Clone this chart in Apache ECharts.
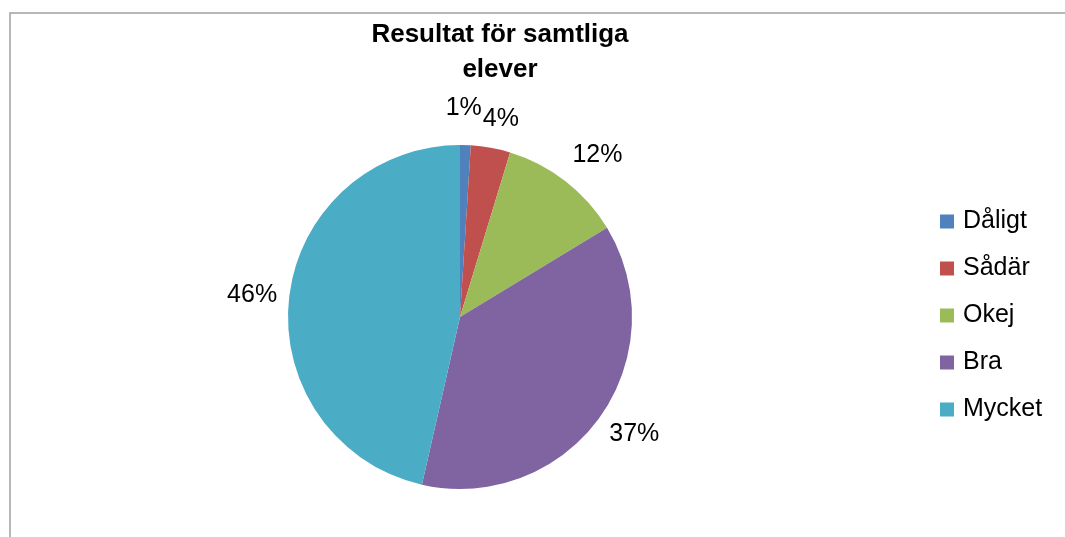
<!DOCTYPE html>
<html>
<head>
<meta charset="utf-8">
<script src="https://cdn.jsdelivr.net/npm/echarts@6/dist/echarts.min.js"></script>
<style>
  html, body { margin: 0; padding: 0; background: #fff; }
  #chart { width: 1065px; height: 537px; }
</style>
</head>
<body>
<div id="chart"></div>
<script>
const categories = ['Dåligt', 'Sådär', 'Okej', 'Bra', 'Mycket']
const values = [1.0, 3.7, 11.6, 37.2, 46.4]
const colors = ['#4F81BD', '#C0504D', '#9BBB59', '#8064A2', '#4BACC6']

const pieCenter = [460, 317]
const pieRadius = 172
const labelGap = 12
const labelFont = '25px "Liberation Sans", Arial, sans-serif'

const total = values.reduce((a, b) => a + b, 0)

// mät etikettbredd för grannar
const measureCtx = document.createElement('canvas').getContext('2d')
measureCtx.font = labelFont
function pctText(i) {
  return Math.round(values[i] / total * 100) + '%'
}

// Excel-liknande placering: utanför kanten längs mittvinkeln
function labelPos(i, w) {
  let before = 0
  for (let k = 0; k < i; k++) before += values[k]
  const mid = (before + values[i] / 2) / total * Math.PI * 2
  const sx = Math.sin(mid)
  const sy = -Math.cos(mid)
  const clamp = v => Math.max(-1, Math.min(1, v))
  const halfH = 10 + (sy < 0 ? 11 * sy * sy : 0)
  const r = pieRadius + labelGap
  return {
    x: pieCenter[0] + r * sx + clamp(1.6 * sx) * w / 2,
    y: pieCenter[1] + r * sy + clamp(1.6 * sy) * halfH,
    w: w
  }
}

function overlapX(a, b, h) {
  if (Math.abs(a.y - b.y) >= h) return 0
  const o = Math.min(a.x + a.w / 2, b.x + b.w / 2) - Math.max(a.x - a.w / 2, b.x - b.w / 2)
  return o > 0 ? o : 0
}

const myChart = echarts.init(document.getElementById('chart'))

const option = {
  backgroundColor: '#fff',
  color: colors,
  textStyle: {
    fontFamily: 'Liberation Sans, Arial, sans-serif'
  },
  title: {
    text: 'Resultat för samtliga\nelever',
    left: 500,
    top: 17,
    padding: 0,
    textAlign: 'center',
    textStyle: {
      fontSize: 26,
      fontWeight: 'bold',
      color: '#000',
      lineHeight: 35
    }
  },
  legend: {
    orient: 'vertical',
    left: 940,
    top: 209,
    padding: 0,
    icon: 'rect',
    itemWidth: 14,
    itemHeight: 14,
    itemGap: 22,
    textStyle: {
      fontSize: 25,
      lineHeight: 25,
      color: '#000',
      padding: [0, 0, 0, 4]
    },
    data: categories
  },
  graphic: [
    {
      // ram runt diagrammet
      type: 'rect',
      shape: { x: 10, y: 13, width: 1070, height: 540 },
      style: { fill: 'none', stroke: '#a0a0a0', lineWidth: 1.5 },
      silent: true
    }
  ],
  series: [
    {
      type: 'pie',
      center: pieCenter,
      radius: pieRadius,
      startAngle: 90,
      clockwise: true,
      avoidLabelOverlap: false,
      label: {
        show: true,
        position: 'outside',
        fontSize: 25,
        color: '#000',
        formatter: function (p) {
          return Math.round(p.percent) + '%'
        }
      },
      labelLine: {
        show: false
      },
      labelLayout: function (params) {
        const i = params.dataIndex
        const h = params.labelRect.height
        const me = labelPos(i, params.labelRect.width)
        let x = me.x
        let y = me.y
        // knuffa isär små etiketter som krockar med grannen
        const neighbours = [i + 1, i - 1].filter(j => j >= 0 && j < values.length)
        neighbours.forEach(j => {
          const nb = labelPos(j, measureCtx.measureText(pctText(j)).width)
          const o = overlapX(me, nb, h)
          if (o > 0) {
            x += (me.x < nb.x ? -1 : 1) * (o / 2 + 0.5)
            y += (me.y < nb.y ? -1 : 1) * 4
          }
        })
        return {
          x: x,
          y: y,
          align: 'center',
          verticalAlign: 'middle'
        }
      },
      emphasis: { disabled: true },
      data: categories.map((name, i) => ({ name: name, value: values[i] }))
    }
  ]
}

myChart.setOption(option)
</script>
</body>
</html>
